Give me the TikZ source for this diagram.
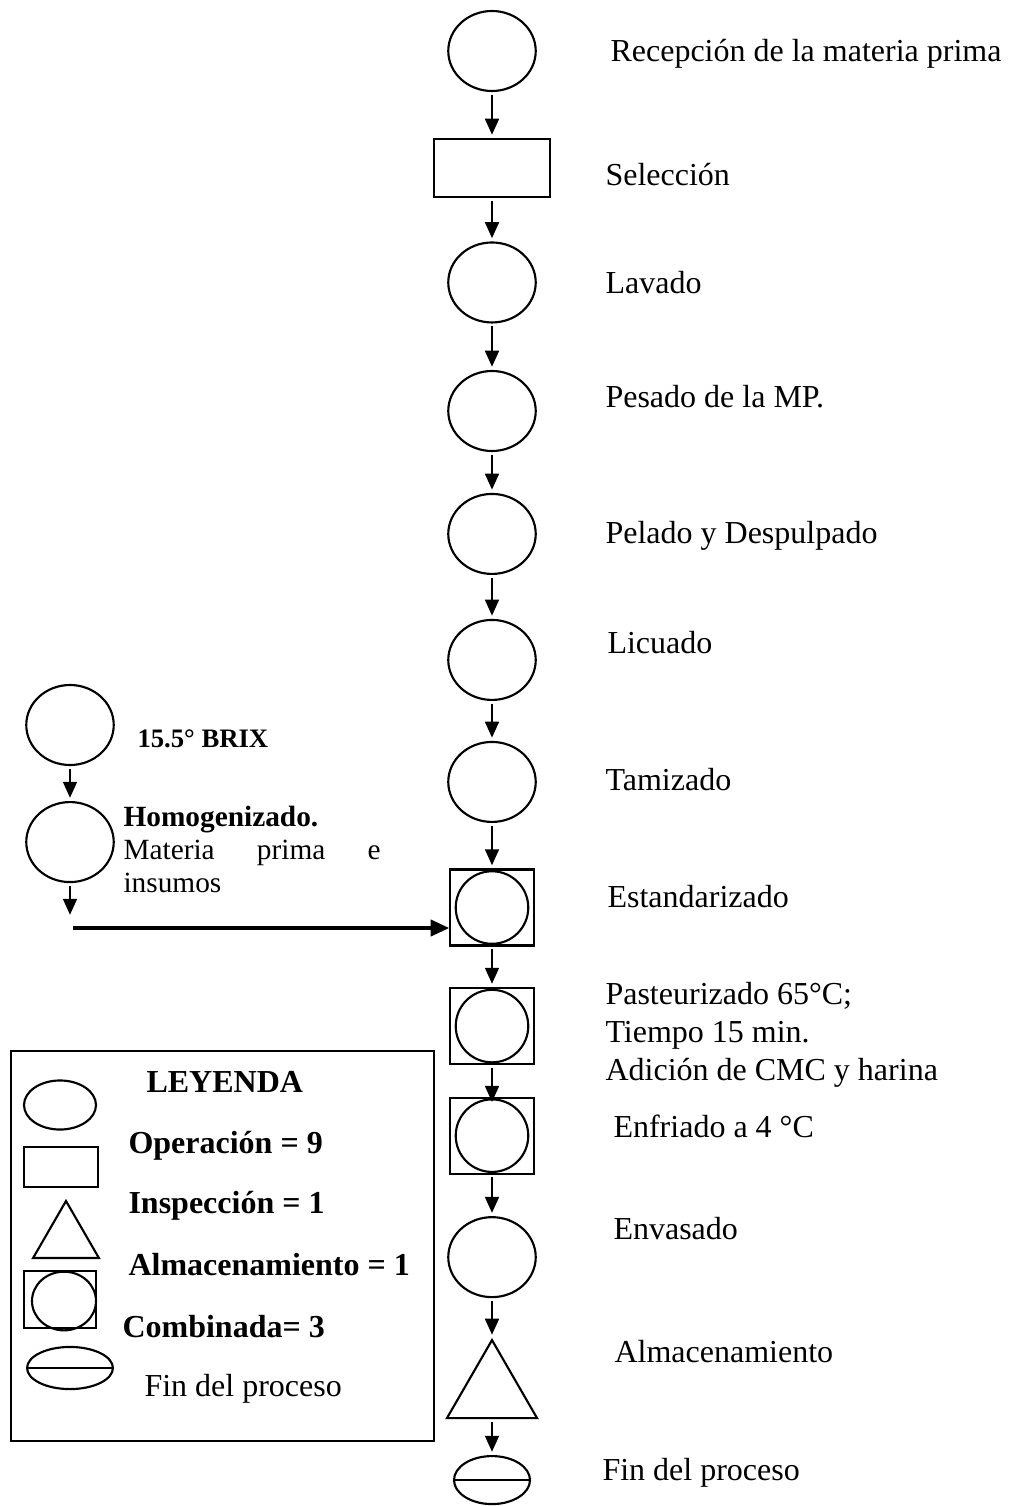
\documentclass[tikz,border=0pt]{standalone}
\usepackage{fontspec}
\setmainfont{Liberation Serif}
\usetikzlibrary{shapes.geometric,arrows.meta}

\begin{document}
\begin{tikzpicture}[x=0.375pt, y=-0.375pt, node distance=45pt]

		% Define styles
		\tikzstyle{op} = [
		ellipse, draw, line width=0.8pt, inner sep=0pt,
		minimum width=32.8pt, minimum height=30pt]
		\tikzstyle{insp} = [
		rectangle, draw, line width=0.8pt, inner sep=0pt,
		minimum width=43.5pt, minimum height=21.8pt]
		\tikzstyle{comb} = [
		rectangle, draw, line width=0.8pt, inner sep=0pt,
		minimum width=31.2pt, minimum height=28.5pt,
		path picture={\draw[line width=0.8pt] (path picture bounding box.center) circle (13.6pt);}]
		\tikzstyle{alma} = [
		regular polygon, regular polygon sides=3, draw,
		line width=0.8pt, inner sep=0pt, minimum size=39pt]
		\tikzstyle{fin} = [
		ellipse, draw, line width=0.8pt, inner sep=0pt,
		minimum width=28.5pt, minimum height=18pt,
		path picture={\draw[line width=0.6pt] (path picture bounding box.west) -- (path picture bounding box.east);}]
		\tikzstyle{txt} = [anchor=base west, inner sep=0pt, font=\fontsize{12}{14.4}\selectfont]
		\tikzstyle{ley} = [txt, font=\fontsize{12}{14.4}\selectfont\bfseries]
		\tikzstyle{arrow} = [line width=0.8pt, -{Triangle[length=6pt, width=5.2pt]},
		shorten <=1pt, shorten >=1.2pt]

		\useasboundingbox (0,0) rectangle (1012,1506);

		% Main column
		\node (rec) [op] at (492,51) {};
		\node (sel) [insp, below of=rec, yshift=1.1pt] {};
		\node (lav) [op, below of=sel, yshift=2.1pt] {};
		\node (pes) [op, below of=lav, yshift=-3.2pt] {};
		\node (pel) [op, below of=pes, yshift=-1.1pt] {};
		\node (lic) [op, below of=pel, yshift=-2.25pt] {};
		\node (tam) [op, below of=lic, yshift=-0.75pt] {};
		\node (est) [comb, below of=tam, yshift=-2.1pt] {};
		\node (pas) [comb, below of=est, yshift=0.55pt] {};
		\node (enf) [comb, below of=pas, yshift=3.9pt] {};
		\node (env) [op, below of=enf, yshift=-0.55pt] {};
		\node (alm) [alma, below of=env, yshift=-5.6pt] {};
		\node (fin) [fin, below of=alm, yshift=12pt] {};

		% Labels
		\node (rectxt) [txt] at (610,62) {Recepción de la materia prima};
		\node (seltxt) [txt] at (605,185) {Selección};
		\node (lavtxt) [txt] at (605,293) {Lavado};
		\node (pestxt) [txt] at (605,407) {Pesado de la MP.};
		\node (peltxt) [txt] at (605,543) {Pelado y Despulpado};
		\node (lictxt) [txt] at (607,653) {Licuado};
		\node (tamtxt) [txt] at (605,790) {Tamizado};
		\node (esttxt) [txt] at (607,907) {Estandarizado};
		\node (pastxt) [txt, text width=150pt, align=flush left] at (605,1004) {
			Pasteurizado 65°C;\\
			Tiempo 15 min.\\
			Adición de CMC y harina
		};
		\node (enftxt) [txt] at (613,1137) {Enfriado a 4 °C};
		\node (envtxt) [txt] at (613,1239) {Envasado};
		\node (almtxt) [txt] at (614,1362) {Almacenamiento};
		\node (fintxt) [txt] at (602,1480) {Fin del proceso};

		% Side branch
		\node (brix) [op] at (70,725) {};
		\node (hom) [op, below of=brix, yshift=1.1pt] {};
		\node (brixtxt) [txt, font=\fontsize{10}{12}\selectfont\bfseries] at (137,747) {15.5° BRIX};
		\node (homtxt) [txt, font=\fontsize{11}{12.4}\selectfont, text width=97pt, align=flush left] at (123,826) {
			\textbf{Homogenizado.}\\
			\makebox[96.4pt][s]{Materia\hfill prima\hfill e}\\
			insumos
		};
		\coordinate (homend) at (70,918);
		\coordinate (mix) at (73,928);

		% Arrows
		\draw [arrow] (rec) -- (sel);
		\draw [arrow] (sel) -- (lav);
		\draw [arrow] (lav) -- (pes);
		\draw [arrow] (pes) -- (pel);
		\draw [arrow] (pel) -- (lic);
		\draw [arrow] (lic) -- (tam);
		\draw [arrow] (tam) -- (est);
		\draw [arrow] (est) -- (pas);
		\draw [arrow, shorten >=-2pt] (pas) -- (enf);
		\draw [arrow] (enf) -- (env);
		\draw [arrow] (env) -- (alm);
		\draw [arrow] (alm) -- (fin);
		\draw [arrow] (brix) -- (hom);
		\draw [arrow] (hom) -- (homend);
		\draw [line width=1.5pt, -{Triangle[length=7pt, width=6pt]}] (mix) -- (mix -| est.west);

		% Legend
		\draw [line width=0.8pt] (11,1051) rectangle (434,1441);
		\node (leytit) [ley] at (146,1092) {LEYENDA};
		\node (leyop) [op, minimum width=27pt, minimum height=18.4pt] at (60,1105) {};
		\node (leyoptxt) [ley] at (128,1153) {Operación = 9};
		\node (leyins) [insp, minimum width=27.8pt, minimum height=15pt] at (61,1167) {};
		\node (leyinstxt) [ley] at (128,1213) {Inspección = 1};
		\node (leyalm) [alma, minimum size=28.5pt] at (66,1239) {};
		\node (leyalmtxt) [ley] at (128,1275) {Almacenamiento = 1};
		\node (leycomb) [insp, minimum width=27pt, minimum height=21.4pt] at (60,1299.5) {};
		\node (leycombc) [op, minimum width=24pt, minimum height=22pt] at (64,1301) {};
		\node (leycombtxt) [ley] at (122,1337) {Combinada= 3};
		\node (leyfin) [fin, minimum width=32.2pt, minimum height=15.8pt] at (70,1368) {};
		\node (leyfintxt) [txt] at (144,1396) {Fin del proceso};
	\end{tikzpicture}
\end{document}
